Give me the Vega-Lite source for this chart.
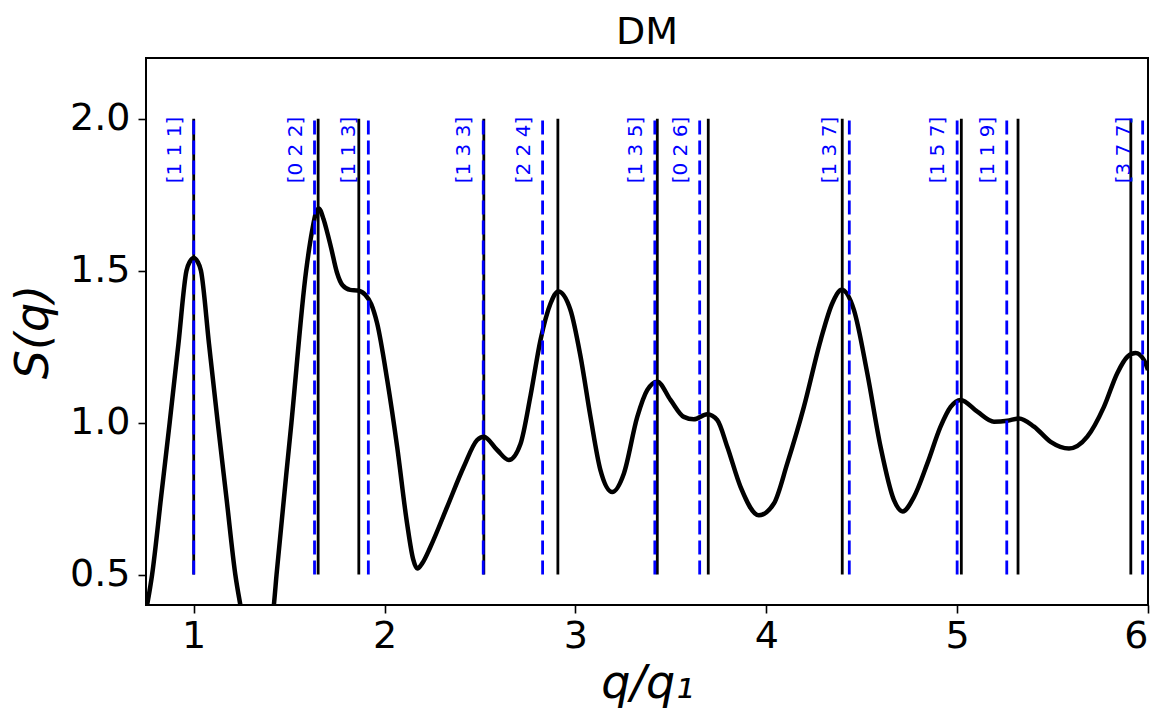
{
  "$schema": "https://vega.github.io/schema/vega-lite/v6.json",
  "width": 1002,
  "height": 547,
  "autosize": {"type": "none"},
  "padding": {"left": 146, "top": 58, "right": 14, "bottom": 108},
  "background": "white",
  "config": {
    "font": "DejaVu Sans",
    "view": {"stroke": "black", "strokeWidth": 2},
    "axis": {
      "grid": false,
      "domain": false,
      "tickColor": "black",
      "tickSize": 8,
      "tickWidth": 1.6,
      "labelColor": "black",
      "labelFontSize": 38,
      "labelFont": "DejaVu Sans",
      "titleFont": "DejaVu Sans",
      "titleColor": "black",
      "titleFontWeight": "normal"
    }
  },
  "title": {"text": "DM", "fontSize": 38, "fontWeight": "normal", "color": "black", "font": "DejaVu Sans", "offset": -24, "baseline": "alphabetic", "anchor": "middle"},
  "datasets": {
    "curve": [
      {"q": 0.75, "s": 0.38}, {"q": 0.782, "s": 0.5}, {"q": 0.83, "s": 0.76}, {"q": 0.874, "s": 1.0},
      {"q": 0.92, "s": 1.26}, {"q": 0.962, "s": 1.5}, {"q": 0.98, "s": 1.53}, {"q": 1.0, "s": 1.542},
      {"q": 1.02, "s": 1.53}, {"q": 1.038, "s": 1.5}, {"q": 1.08, "s": 1.26}, {"q": 1.126, "s": 1.0},
      {"q": 1.172, "s": 0.75}, {"q": 1.218, "s": 0.5}, {"q": 1.25, "s": 0.38}, {"q": 1.28, "s": 0.27},
      {"q": 1.33, "s": 0.15}, {"q": 1.4, "s": 0.3}, {"q": 1.42, "s": 0.4}, {"q": 1.434, "s": 0.5},
      {"q": 1.512, "s": 1.0}, {"q": 1.589, "s": 1.5}, {"q": 1.62, "s": 1.63}, {"q": 1.64, "s": 1.69},
      {"q": 1.655, "s": 1.705}, {"q": 1.68, "s": 1.67}, {"q": 1.70, "s": 1.625}, {"q": 1.72, "s": 1.575},
      {"q": 1.75, "s": 1.495}, {"q": 1.78, "s": 1.452}, {"q": 1.82, "s": 1.437}, {"q": 1.86, "s": 1.435},
      {"q": 1.9, "s": 1.42}, {"q": 1.93, "s": 1.39}, {"q": 1.961, "s": 1.327}, {"q": 2.014, "s": 1.14},
      {"q": 2.066, "s": 0.92}, {"q": 2.118, "s": 0.668}, {"q": 2.15, "s": 0.55}, {"q": 2.171, "s": 0.52},
      {"q": 2.2, "s": 0.54}, {"q": 2.24, "s": 0.591}, {"q": 2.328, "s": 0.723}, {"q": 2.415, "s": 0.855},
      {"q": 2.485, "s": 0.943}, {"q": 2.52, "s": 0.954}, {"q": 2.59, "s": 0.91}, {"q": 2.651, "s": 0.877},
      {"q": 2.712, "s": 0.93}, {"q": 2.765, "s": 1.09}, {"q": 2.817, "s": 1.272}, {"q": 2.87, "s": 1.393},
      {"q": 2.91, "s": 1.432}, {"q": 2.974, "s": 1.371}, {"q": 3.027, "s": 1.217}, {"q": 3.079, "s": 1.019},
      {"q": 3.131, "s": 0.844}, {"q": 3.193, "s": 0.772}, {"q": 3.254, "s": 0.833}, {"q": 3.324, "s": 1.019},
      {"q": 3.376, "s": 1.107}, {"q": 3.429, "s": 1.135}, {"q": 3.498, "s": 1.075}, {"q": 3.568, "s": 1.019},
      {"q": 3.62, "s": 1.011}, {"q": 3.691, "s": 1.028}, {"q": 3.743, "s": 1.009}, {"q": 3.796, "s": 0.92},
      {"q": 3.865, "s": 0.789}, {"q": 3.961, "s": 0.695}, {"q": 4.04, "s": 0.734}, {"q": 4.11, "s": 0.866},
      {"q": 4.197, "s": 1.052}, {"q": 4.285, "s": 1.272}, {"q": 4.346, "s": 1.393}, {"q": 4.395, "s": 1.437},
      {"q": 4.459, "s": 1.371}, {"q": 4.529, "s": 1.163}, {"q": 4.599, "s": 0.92}, {"q": 4.669, "s": 0.745},
      {"q": 4.715, "s": 0.708}, {"q": 4.774, "s": 0.756}, {"q": 4.844, "s": 0.866}, {"q": 4.913, "s": 0.987},
      {"q": 4.966, "s": 1.052}, {"q": 5.018, "s": 1.075}, {"q": 5.106, "s": 1.036}, {"q": 5.193, "s": 1.003},
      {"q": 5.263, "s": 1.006}, {"q": 5.324, "s": 1.014}, {"q": 5.403, "s": 0.987}, {"q": 5.49, "s": 0.937},
      {"q": 5.586, "s": 0.915}, {"q": 5.682, "s": 0.954}, {"q": 5.769, "s": 1.052}, {"q": 5.839, "s": 1.163},
      {"q": 5.892, "s": 1.217}, {"q": 5.935, "s": 1.229}, {"q": 5.979, "s": 1.206}, {"q": 6.0, "s": 1.173}
    ],
    "black": [
      {"q": 1.0}, {"q": 1.652}, {"q": 1.865}, {"q": 2.52}, {"q": 2.908}, {"q": 3.429},
      {"q": 3.696}, {"q": 4.398}, {"q": 5.022}, {"q": 5.319}, {"q": 5.91}
    ],
    "blue": [
      {"q": 1.0, "label": "[1 1 1]"}, {"q": 1.633, "label": "[0 2 2]"}, {"q": 1.915, "label": "[1 1 3]"},
      {"q": 2.517, "label": "[1 3 3]"}, {"q": 2.828, "label": "[2 2 4]"}, {"q": 3.416, "label": "[1 3 5]"},
      {"q": 3.651, "label": "[0 2 6]"}, {"q": 4.435, "label": "[1 3 7]"}, {"q": 5.0, "label": "[1 5 7]"},
      {"q": 5.26, "label": "[1 1 9]"}, {"q": 5.972, "label": "[3 7 7]"}
    ]
  },
  "layer": [
    {
      "data": {"name": "curve"},
      "mark": {"type": "line", "color": "black", "strokeWidth": 4.5, "interpolate": "monotone", "clip": true},
      "encoding": {
        "x": {"field": "q", "type": "quantitative", "scale": {"domain": [0.75, 6], "nice": false, "zero": false},
          "axis": {"values": [1, 2, 3, 4, 5, 6], "format": "d", "labelPadding": 4, "title": "q/q₁", "titleFontSize": 46, "titleFontStyle": "italic", "titleY": 92, "titleBaseline": "alphabetic"}},
        "y": {"field": "s", "type": "quantitative", "scale": {"domain": [0.4, 2.2], "nice": false, "zero": false},
          "axis": {"values": [0.5, 1.0, 1.5, 2.0], "format": ".1f", "labelPadding": 8, "title": "S(q)", "titleFontSize": 46, "titleFontStyle": "italic", "titleX": -113, "titleY": 273.5, "titleAngle": 270, "titleAlign": "center", "titleBaseline": "middle"}}
      }
    },
    {
      "data": {"name": "black"},
      "mark": {"type": "rule", "color": "black", "strokeWidth": 2.8},
      "encoding": {
        "x": {"field": "q", "type": "quantitative"},
        "y": {"datum": 0.5},
        "y2": {"datum": 2.0}
      }
    },
    {
      "data": {"name": "blue"},
      "mark": {"type": "rule", "color": "#0000ff", "strokeWidth": 2.8, "strokeDash": [14, 6]},
      "encoding": {
        "x": {"field": "q", "type": "quantitative"},
        "y": {"datum": 0.5},
        "y2": {"datum": 2.0}
      }
    },
    {
      "data": {"name": "blue"},
      "mark": {"type": "text", "color": "#0000ff", "fontSize": 20, "font": "DejaVu Sans", "angle": 270, "align": "right", "baseline": "bottom", "dy": -9, "dx": 2},
      "encoding": {
        "x": {"field": "q", "type": "quantitative"},
        "y": {"datum": 2.0},
        "text": {"field": "label"}
      }
    }
  ]
}
